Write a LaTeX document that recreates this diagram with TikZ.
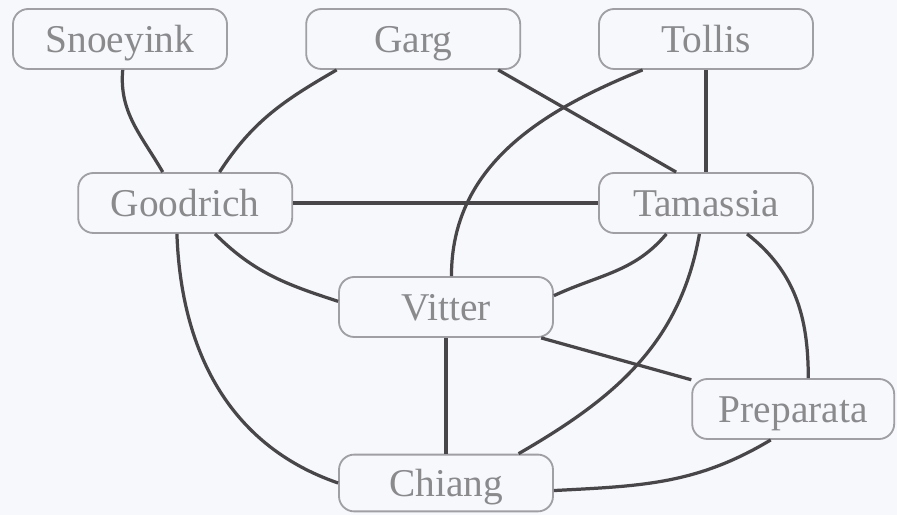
\documentclass[tikz,border=0pt]{standalone}
\usepackage{fontspec}
\setmainfont{Liberation Serif}
\usetikzlibrary{positioning}

\definecolor{paper}{RGB}{246,248,252}
\definecolor{boxline}{RGB}{160,160,164}
\definecolor{boxtext}{RGB}{138,138,141}
\definecolor{wire}{RGB}{72,70,72}

\tikzset{
  every author/.style={draw=boxline, line width=1.3pt, rounded corners=0.38cm,
    minimum width=5.35cm, minimum height=1.5cm, text=boxtext, inner ysep=0.1cm,
    text height=22pt, text depth=3.4pt,
    font=\fontsize{28}{32}\selectfont},
  author preparata/.style={minimum width=5.05cm},
  author chiang/.style={minimum height=1.42cm},
  link/.style={draw=wire, line width=2.3pt}
}

\begin{document}
\begin{tikzpicture}[x=1cm, y=1cm]

\fill [paper] (0,0) rectangle (22.425,12.875);
\useasboundingbox (0,0) rectangle (22.425,12.875);

% Create the author nodes
\foreach \n/\t/\x/\y in {snoeyink/Snoeyink/3.0/11.9, garg/Garg/10.33/11.9,
    tollis/Tollis/17.65/11.9, goodrich/Goodrich/4.63/7.8,
    tamassia/Tamassia/17.65/7.8, vitter/Vitter/11.15/5.2,
    preparata/Preparata/19.83/2.65, chiang/Chiang/11.15/0.8}
  \node [every author/.try, author \n/.try] (\n) at (\x,\y) {\t};

% Straight links
\draw [link] (garg.-20) -- (tamassia.134);
\draw [link] (tollis.south) -- (tamassia.north);
\draw [link] (goodrich.east) -- (tamassia.west);
\draw [link] (vitter.-18) -- (preparata.164);
\draw [link] (vitter.south) -- (chiang.north);

% Curved links
\foreach \a/\p/\o/\b/\q/\i in {snoeyink/-85/-95/goodrich/126/120,
    garg/-158/-150/goodrich/42/57,
    tollis/-154/-158/vitter/80/90,
    goodrich/-46/-45/vitter/177/162,
    goodrich/-105/-88/chiang/180/161,
    tamassia/-142/-130/vitter/6/25,
    tamassia/-102/-100/chiang/22/30,
    tamassia/-37/-38/preparata/64/90,
    preparata/-126/-149/chiang/-4/3}
  \draw [link] (\a.\p) to [out=\o, in=\i] (\b.\q);

\end{tikzpicture}
\end{document}
